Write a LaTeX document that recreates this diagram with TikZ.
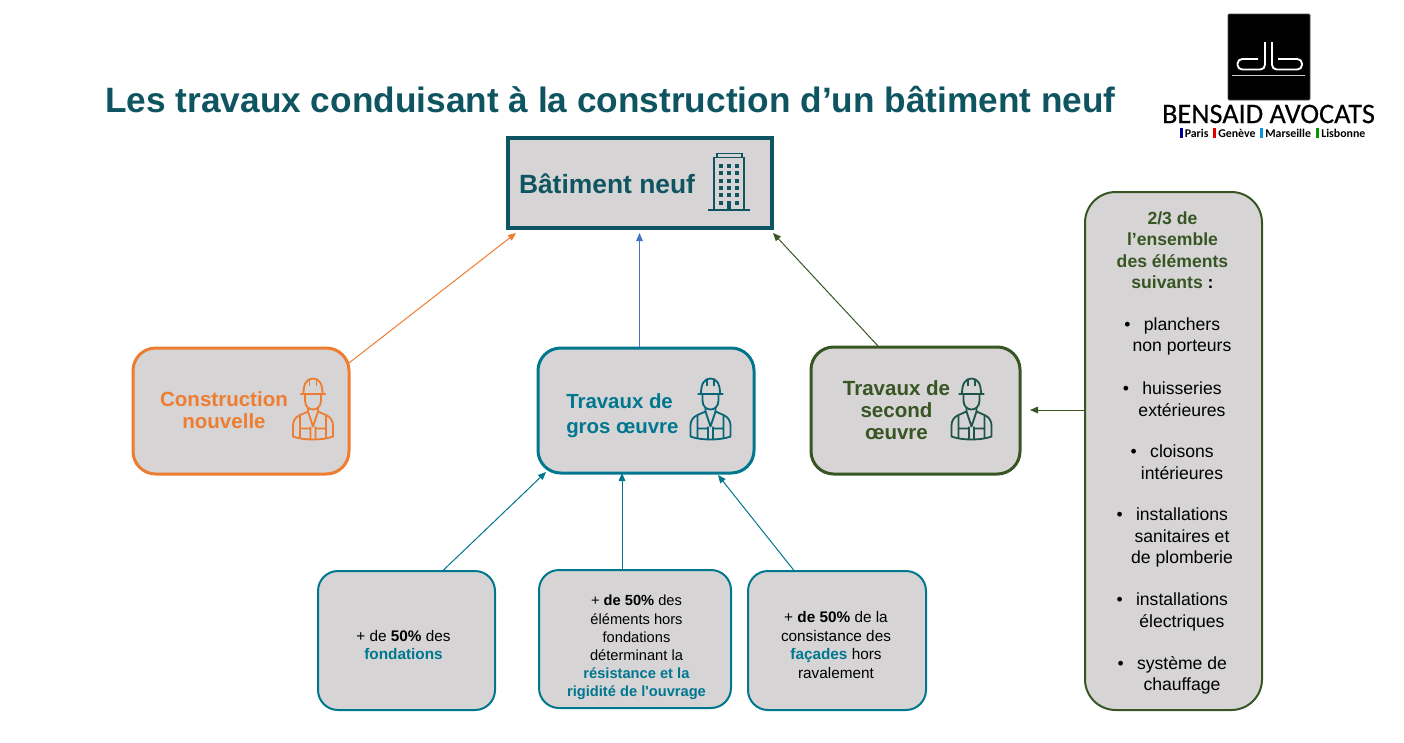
\documentclass[tikz,border=0pt]{standalone}
\usepackage{fontspec}
\setmainfont[Ligatures=TeXOff]{Liberation Sans}
\newfontfamily\logofont[FakeBold=0.3]{Carlito}
\newfontfamily\cityfont{Carlito}
\usetikzlibrary{arrows.meta}
\definecolor{boxfill}{HTML}{D6D4D5}
\definecolor{deepteal}{HTML}{0E5561}
\definecolor{midteal}{HTML}{00778F}
\definecolor{oran}{HTML}{ED7D31}
\definecolor{leaf}{HTML}{375623}
\definecolor{blu}{HTML}{4472C4}
\newcommand{\fs}[2]{\fontsize{#1pt}{#2pt}\selectfont}
\tikzset{
  x=0.75pt,y=-0.75pt,
  boxbase/.style={draw,fill=boxfill,rectangle,inner sep=0pt,align=center},
  bigbox/.style={boxbase,line width=2.25pt,rounded corners=17pt},
  smallbox/.style={boxbase,draw=midteal,line width=1.5pt,rounded corners=15pt},
  smalltext/.style={align=center,inner sep=0pt,font=\fs{11}{13.6}},
  widetext/.style={align=center,inner sep=0pt,font=\fs{11.5}{14}},
  heading/.style={align=center,inner sep=0pt,font=\fs{15.4}{16.5}\bfseries},
  listitem/.style={align=center,inner sep=0pt,font=\fs{13.2}{16.1}},
  citylabel/.style={inner sep=0pt,font=\cityfont\bfseries\fs{8.9}{10},anchor=west},
  conn/.style={line width=0.75pt,-{Triangle[length=6pt,width=5pt]}},
  worker/.pic={
    \draw[line width=1.35pt,line join=round]
      (-9.5,15) .. controls (-9.5,5) and (-6,0) .. (0,0) .. controls (6,0) and (9.5,5) .. (9.5,15);
    \draw[line width=1.2pt] (-3.5,0.5) -- (-3.5,7) (3.5,0.5) -- (3.5,7);
    \draw[line width=1.9pt,line cap=round] (-12,15.5) -- (12,15.5);
    \draw[line width=1.35pt] (-8,16) -- (-8,22) .. controls (-8,28) and (-4,31) .. (0,31) .. controls (4,31) and (8,28) .. (8,22) -- (8,16);
    \draw[line width=1.35pt,line join=round]
      (-5,29) -- (-5,33) -- (-14,37) .. controls (-18,39) and (-20,43) .. (-20,47) -- (-20,58)
      .. controls (-10,62) and (10,62) .. (20,58) -- (20,47) .. controls (20,43) and (18,39) .. (14,37) -- (5,33) -- (5,29);
    \draw[line width=1.35pt,line join=round]
      (-13,37) -- (-13,60) (13,37) -- (13,60) (-5,33) -- (0,48) -- (5,33)
      (-2.5,48) -- (-2.5,60.5) (2.5,48) -- (2.5,60.5) (-13,50) -- (-2.5,50) (13,50) -- (2.5,50);
  },
}
\begin{document}
\begin{tikzpicture}
\useasboundingbox (0,0) rectangle (1404,743);
% title
\node[inner sep=0pt,text=deepteal,font=\fs{26.43}{30}\bfseries] (title) at (610.5,100) {Les travaux conduisant à la construction d’un bâtiment neuf};
% logo
\node[fill=black,draw=black!70,line width=0.4pt,rounded corners=0.8pt,minimum width=61.5pt,minimum height=64.5pt,inner sep=0pt] (logobox) at (1269,57) {};
\draw[white,line width=1.4pt,rounded corners=3.5pt] (1265,42) -- (1265,69.5) -- (1237.5,69.5) -- (1237.5,59) -- (1258,59);
\draw[white,line width=1.4pt,rounded corners=3.5pt] (1272,42) -- (1272,69.5) -- (1302,69.5) -- (1302,59) -- (1278,59);
\draw[black!20,line width=0.5pt] (1232,75.5) -- (1305,75.5);
\node[inner sep=0pt,font=\logofont\fs{21.2}{24}] (logoname) at (1268.5,114) {BENSAID AVOCATS};
\fill[blue!60!black] (1179.5,127.5) rectangle (1182.5,138);
\node[citylabel] (city1) at (1184.5,133) {Paris};
\fill[red!90!black] (1213,127.5) rectangle (1216,138);
\node[citylabel] (city2) at (1218,133) {Genève};
\fill[cyan!80!blue] (1260,127.5) rectangle (1263,138);
\node[citylabel] (city3) at (1265,133) {Marseille};
\fill[green!60!black] (1316,127.5) rectangle (1319,138);
\node[citylabel] (city4) at (1321,133) {Lisbonne};
% main boxes
\node[boxbase,draw=deepteal,line width=3pt,minimum width=264*0.75pt,minimum height=90*0.75pt] (bat) at (640,183) {};
\node[inner sep=0pt,text=deepteal,font=\fs{19.8}{24}\bfseries] (battxt) at (607,184) {Bâtiment neuf};
\begin{scope}[deepteal,line width=1.25pt]
  \draw[line width=1.5pt] (708,209.5) -- (750,209.5);
  \draw (714,209) -- (714,157.5) -- (744,157.5) -- (744,209);
  \draw (717,157) -- (717,153.5) -- (742,153.5) -- (742,157);
  \foreach \yy in {166,173.3,180.7,188,195.3}
    \foreach \xx in {721,729,736.5}
      \fill (\xx-2,\yy-2) rectangle (\xx+2,\yy+2);
  \foreach \xx in {721,736.5}
    \fill (\xx-2,200.7) rectangle (\xx+2,204.7);
  \fill (727,200.5) rectangle (731,209);
\end{scope}
\node[bigbox,draw=oran,minimum width=216*0.75pt,minimum height=126*0.75pt] (cons) at (241,411) {};
\node[heading,text=oran] (constxt) at (224,410) {Construction\\nouvelle};
\pic[color=oran] at (313,378.5) {worker};
\node[bigbox,draw=midteal,minimum width=216*0.75pt,minimum height=125*0.75pt] (gros) at (646,410.5) {};
\node[heading,align=left,anchor=west,text=midteal,font=\fs{15.3}{18.75}\bfseries] (grostxt) at (566,416) {Travaux de\\gros œuvre};
\pic[color=deepteal!50!midteal] at (710.5,378.5) {worker};
\node[bigbox,draw=leaf,minimum width=209*0.75pt,minimum height=127*0.75pt] (sec) at (915.5,410.5) {};
\node[heading,text=leaf] (sectxt) at (896.5,410) {Travaux de\\second\\œuvre};
\pic[color=deepteal!60!leaf] at (971.5,378.5) {worker};
% small boxes
\node[smallbox,minimum width=177*0.75pt,minimum height=139*0.75pt] (b1) at (406.5,640.5) {};
\node[widetext] (b1txt) at (403.5,645) {+ de \textbf{50\%} des\\\textcolor{midteal}{\textbf{fondations}}};
\node[smallbox,minimum width=192*0.75pt,minimum height=138*0.75pt] (b2) at (635,639) {};
\node[smalltext] (b2txt) at (636.5,647.5) {+ \textbf{de 50\%} des\\éléments hors\\fondations\\déterminant la\\\textcolor{midteal}{\textbf{résistance et la}}\\\textcolor{midteal}{\textbf{rigidité de l'ouvrage}}};
\node[smallbox,minimum width=178*0.75pt,minimum height=139*0.75pt] (b3) at (837,640.5) {};
\node[widetext] (b3txt) at (836,645) {+ \textbf{de 50\%} de la\\consistance des\\\textcolor{midteal}{\textbf{façades}} hors\\ravalement};
% right box
\node[boxbase,draw=leaf,line width=1.5pt,rounded corners=23pt,minimum width=177*0.75pt,minimum height=518*0.75pt] (right) at (1173.5,451) {};
\node[listitem,text=leaf,font=\fs{13.2}{16.1}\bfseries] (head) at (1172.5,250) {2/3 de\\l’ensemble\\des éléments\\suivants \textcolor{black}{:}};
\newcommand{\bul}[1]{\llap{•\hspace{#1pt}}}
\node[listitem] (l1) at (1182,336.5) {\bul{10}planchers\\non porteurs};
\node[listitem] (l2) at (1182,399) {\bul{10}huisseries\\extérieures};
\node[listitem] (l3) at (1182,462) {\bul{10}cloisons\\intérieures};
\node[listitem] (l4) at (1182,537.5) {\bul{10}installations\\sanitaires et\\de plomberie};
\node[listitem] (l5) at (1182,612) {\bul{10}installations\\électriques};
\node[listitem] (l6) at (1182,675.5) {\bul{10}système de\\chauffage};
% connector ends
\coordinate (c1s) at (349,363); \coordinate (c1e) at (516,233);
\coordinate (c2s) at (639.5,347); \coordinate (c2e) at (639.5,233);
\coordinate (c3s) at (878,346); \coordinate (c3e) at (773,233);
\coordinate (c4s) at (1085,410); \coordinate (c4e) at (1030,410);
\coordinate (c5s) at (443,570.5); \coordinate (c5e) at (546,472);
\coordinate (c6s) at (622,570); \coordinate (c6e) at (622,473);
\coordinate (c7s) at (794,570.5); \coordinate (c7e) at (718,475);
\draw[conn,oran] (c1s) -- (c1e);
\draw[conn,blu] (c2s) -- (c2e);
\draw[conn,leaf] (c3s) -- (c3e);
\draw[conn,leaf] (c4s) -- (c4e);
\draw[conn,midteal] (c5s) -- (c5e);
\draw[conn,midteal] (c6s) -- (c6e);
\draw[conn,midteal] (c7s) -- (c7e);
\end{tikzpicture}
\end{document}
